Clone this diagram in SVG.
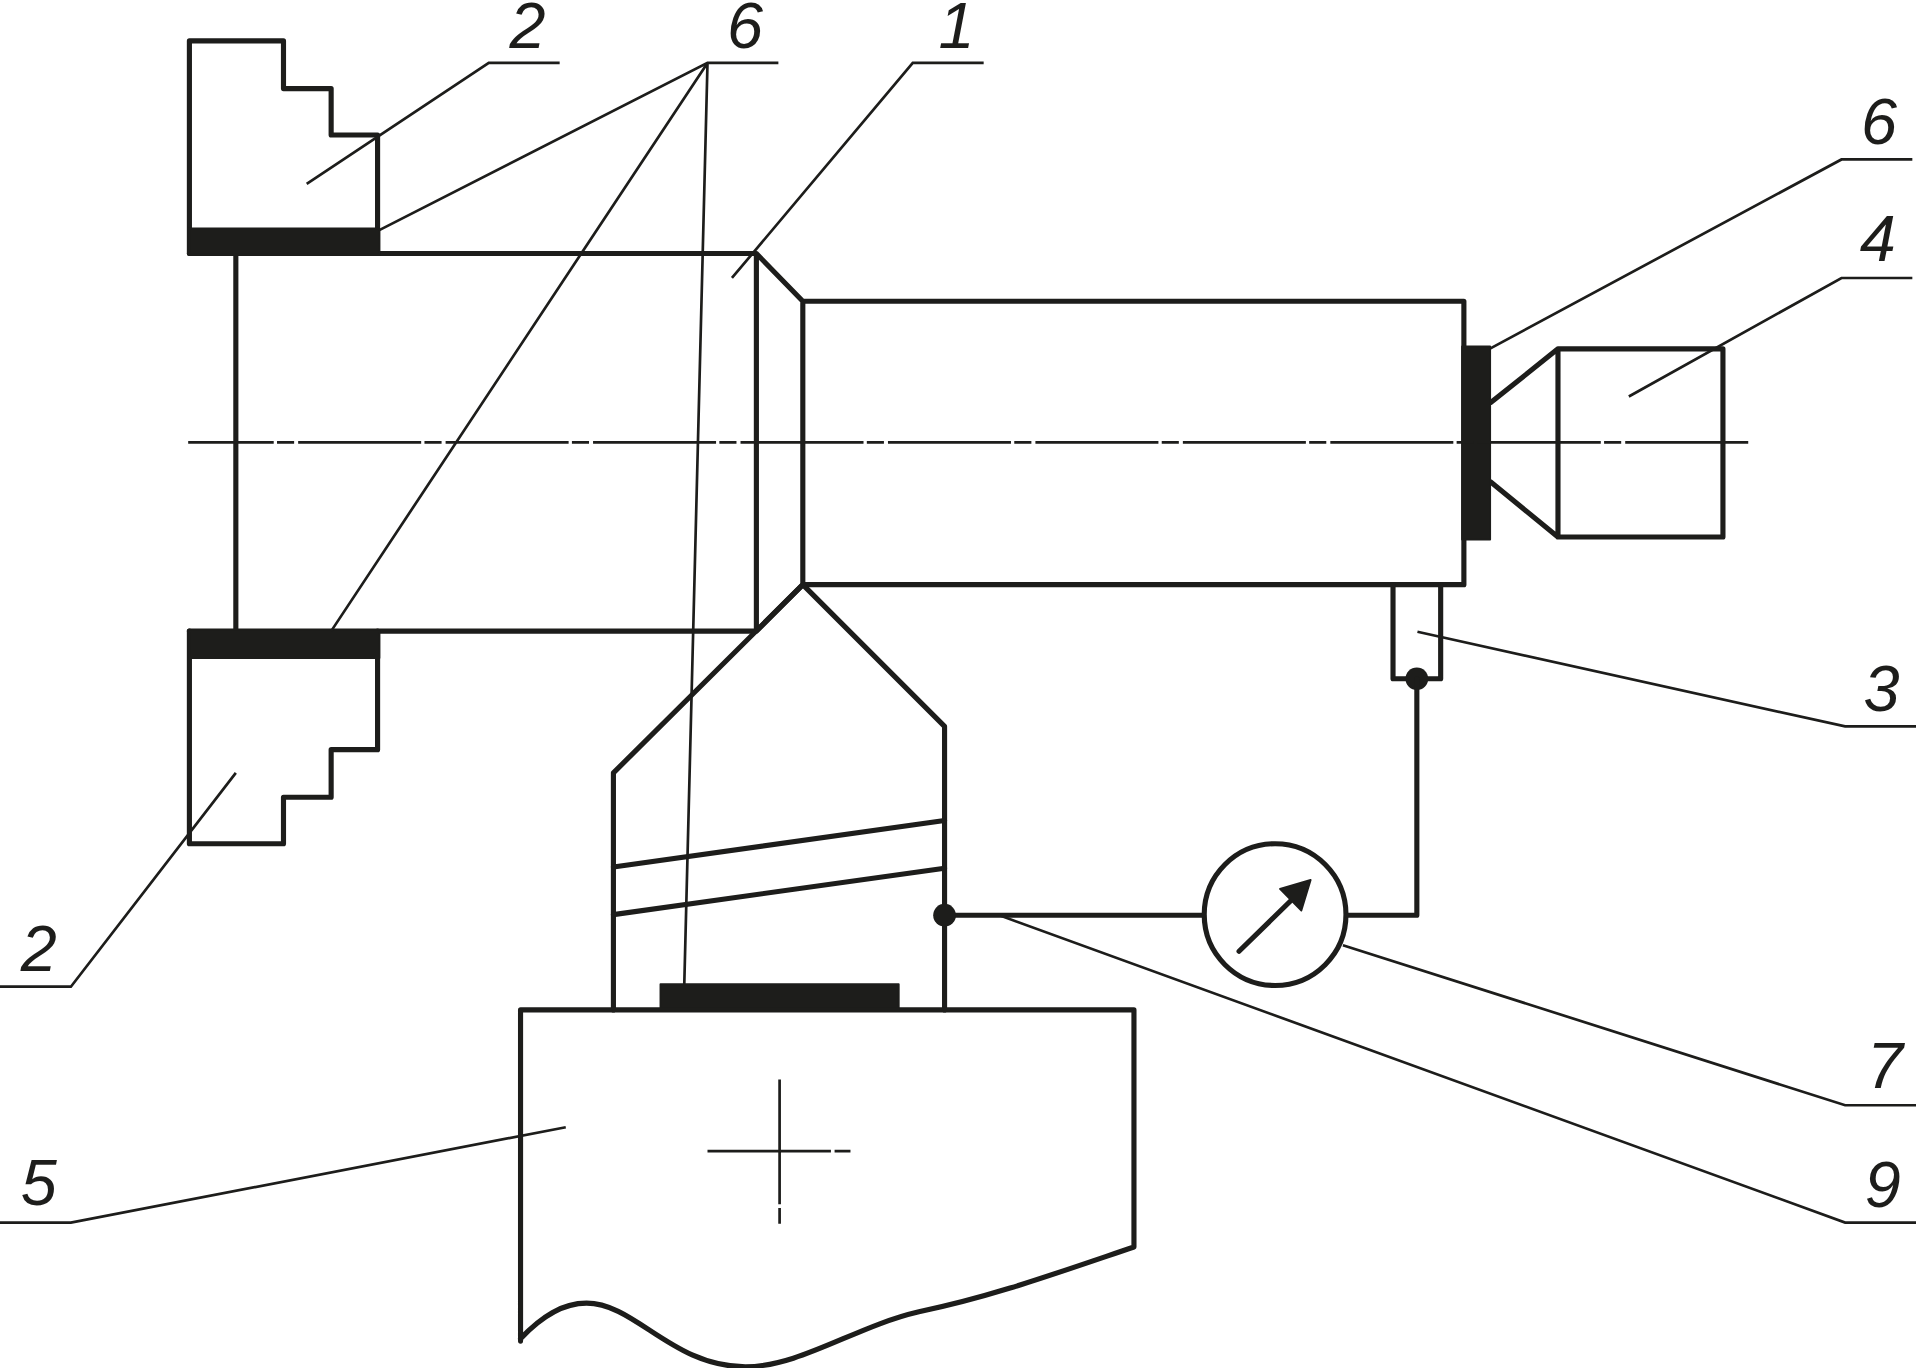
<svg xmlns="http://www.w3.org/2000/svg" width="1916" height="1368" viewBox="0 0 1916 1368">
<style>
.k{fill:none;stroke:#1d1d1b;stroke-width:4.2;stroke-linecap:round;stroke-linejoin:round}
.t{fill:none;stroke:#1d1d1b;stroke-width:2.2;stroke-linecap:butt;stroke-linejoin:miter}
.f{fill:#1d1d1b;stroke:#1d1d1b;stroke-width:1.5;stroke-linejoin:round}
.l{font-family:"Liberation Sans",Arial,sans-serif;font-style:italic;font-size:53px;fill:#1d1d1b}
</style>
<rect width="1916" height="1368" fill="#fff"/>
<g transform="translate(0 0.6) scale(1.22194)">
<g id="workpiece">
<path class="k" d="M155 207H619L657 246H1198V478H657L619 516H155M619 207V516M657 246V478"/>
<path class="k" d="M193 207V516"/>
</g>
<g id="chuck-upper">
<path class="k" d="M155 207V33H232V72H271V110H309V207"/>
<rect class="f" x="155" y="186.500" width="155.500" height="21.500"/>
</g>
<g id="chuck-lower">
<path class="k" d="M155 516V690H232V652H271V613H309V516"/>
<rect class="f" x="155" y="516" width="155.500" height="22"/>
</g>
<g id="tool">
<path class="k" d="M502 826V632L657 478L773 594V826"/>
<path class="k" d="M502 709L773 671M502 748L773 710"/>
<rect class="f" x="540.500" y="805" width="195" height="21"/>
</g>
<g id="table">
<path class="k" d="M426 1097V826H928V1020C860 1043 810 1061 752 1073C700 1085 655 1118 610 1118C550 1118 520 1066 480 1066C460 1066 443 1077 426 1095"/>
<path class="t" d="M638 883V985M638 988V1001M579 941.500H680M683 941.500H696"/>
</g>
<g id="end-stop">
<path class="k" d="M1220 329L1275 285H1410V439H1275L1220 394M1275 285V439"/>
<rect class="f" x="1196.500" y="283" width="23" height="158"/>
</g>
<g id="sensor">
<path class="k" d="M1140 478V555H1179V478"/>
<circle cx="1159.500" cy="555" r="9.300" fill="#1d1d1b"/>
</g>
<g id="gauge">
<circle class="k" cx="1043.500" cy="748" r="58"/>
<path class="k" d="M1014 778L1058 735"/>
<polygon class="f" points="1072.600,719.600 1047.500,727 1065,744.700"/>
</g>
<g id="wiring">
<path class="k" d="M773 748.500H985M1102 748.500H1159.500V555"/>
<circle cx="773" cy="748.500" r="9.300" fill="#1d1d1b"/>
</g>
<path id="centerline" class="t" d="M154 361.500H1431" stroke-dasharray="100.670 2.700 14 3.300" stroke-dashoffset="30.670"/>
<g id="leaders">
<path class="t" d="M458 51H400L251 150"/>
<path class="t" d="M637 51H579L310 188M579 51L271 516M579 51L560 805"/>
<path class="t" d="M805 51H747L599 227"/>
<path class="t" d="M1565 130H1507L1219 285"/>
<path class="t" d="M1565 227H1507L1333 324"/>
<path class="t" d="M1568 594H1510L1160 516.500"/>
<path class="t" d="M1568 904H1510L1099 773"/>
<path class="t" d="M1568 1000H1510L819 749"/>
<path class="t" d="M0 1000H58L463 922"/>
<path class="t" d="M0 807H58L193 632"/>
</g>
<g id="labels">
<text class="l" x="417" y="39">2</text>
<text class="l" x="595" y="39">6</text>
<text class="l" x="768" y="39">1</text>
<text class="l" x="1523" y="117">6</text>
<text class="l" x="1522" y="213">4</text>
<text class="l" x="1525" y="581">3</text>
<text class="l" x="1528" y="890">7</text>
<text class="l" x="1526" y="987">9</text>
<text class="l" x="17" y="986">5</text>
<text class="l" x="17" y="794">2</text>
</g>
</g>
</svg>
